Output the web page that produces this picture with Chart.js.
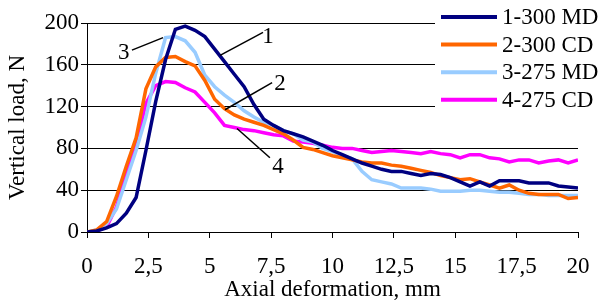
<!DOCTYPE html>
<html>
<head>
<meta charset="utf-8">
<script src="https://cdn.jsdelivr.net/npm/chart.js@4"></script>
<style>
  body { margin: 0; background: #fff; }
</style>
</head>
<body>
<canvas id="loadChart" width="601" height="304"></canvas>
<script>
// axial deformation, mm
const deformation = [0, 0.4, 0.8, 1.2, 1.6, 2.0, 2.4, 2.8, 3.2, 3.6, 4.0, 4.4, 4.8, 5.2, 5.6, 6.0, 6.4, 6.8, 7.2, 7.6,
  8.0, 8.4, 8.8, 9.2, 9.6, 10.0, 10.4, 10.8, 11.2, 11.6, 12.0, 12.4, 12.8, 13.2, 13.6, 14.0, 14.4, 14.8, 15.2, 15.6,
  16.0, 16.4, 16.8, 17.2, 17.6, 18.0, 18.4, 18.8, 19.2, 19.6, 20.0];

// vertical load, N
const load300MD = [0, 1, 4, 8, 18, 33, 78, 125, 165, 194, 197, 193, 187, 175, 163, 151, 139, 122, 108, 102,
  97, 94, 91, 87, 83, 78, 74, 70, 66, 63, 60, 58, 58, 56, 54, 56, 55, 52, 48, 44,
  48, 44, 49, 49, 49, 47, 47, 47, 44, 43, 42];
const load300CD = [0, 2, 10, 34, 63, 90, 137, 158, 167, 168, 163, 159, 145, 127, 118, 112, 108, 105, 102, 98,
  94, 88, 81, 79, 76, 73, 71, 69, 67, 66, 66, 64, 63, 61, 59, 57, 54, 52, 50, 51,
  48, 45, 42, 45, 40, 37, 36, 36, 36, 32, 33];
const load275MD = [0, 2, 8, 22, 50, 78, 110, 152, 186, 187, 183, 172, 150, 139, 131, 124, 116, 110, 105, 102,
  97, 94, 88, 86, 80, 77, 73, 70, 58, 50, 48, 46, 42, 42, 42, 41, 39, 39, 39, 40,
  40, 39, 38, 38, 37, 36, 36, 35, 35, 35, 35];
const load275CD = [0, 1, 5, 24, 56, 83, 123, 140, 144, 143, 138, 134, 124, 114, 102, 100, 98, 97, 95, 93,
  92, 87, 86, 85, 83, 81, 80, 80, 78, 76, 77, 78, 77, 76, 75, 77, 75, 74, 71, 74,
  74, 71, 70, 67, 69, 69, 66, 68, 69, 66, 69];

const seriesLabels = ["1-300 MD", "2-300 CD", "3-275 MD", "4-275 CD"];
const seriesColors = ["#000080", "#FF6600", "#99CCFF", "#FF00FF"];
const seriesValues = [load300MD, load300CD, load275MD, load275CD];

const xTicks = [0, 2.5, 5, 7.5, 10, 12.5, 15, 17.5, 20];
const yTicks = [0, 40, 80, 120, 160, 200];

// curve labels: [text, line from (x,y), line to (x,y), label at (x,y)] in data units
const curveNotes = [
  ["1", [5.42, 169], [7.17, 191], [7.37, 187]],
  ["2", [5.62, 117], [7.54, 143], [7.86, 142]],
  ["3", [3.1, 186], [1.83, 174], [1.5, 171]],
  ["4", [6.11, 99], [7.45, 71], [7.78, 62]],
];

Chart.defaults.font.family = "'Liberation Serif', 'Times New Roman', serif";
Chart.defaults.font.size = 23;
Chart.defaults.color = "#000";

const notesAndLegend = {
  id: "notesAndLegend",
  afterDatasetsDraw(chart) {
    const c = chart.ctx;
    const xs = chart.scales.x, ys = chart.scales.y;
    c.save();
    // leader lines and numbers
    c.strokeStyle = "#000";
    c.lineWidth = 1.5;
    c.fillStyle = "#000";
    c.font = "23px 'Liberation Serif'";
    c.textAlign = "center";
    c.textBaseline = "middle";
    curveNotes.forEach(([txt, a, b, t]) => {
      c.beginPath();
      c.moveTo(xs.getPixelForValue(a[0]), ys.getPixelForValue(a[1]));
      c.lineTo(xs.getPixelForValue(b[0]), ys.getPixelForValue(b[1]));
      c.stroke();
      c.fillText(txt, xs.getPixelForValue(t[0]), ys.getPixelForValue(t[1]));
    });
    // legend box
    c.fillStyle = "#fff";
    c.fillRect(435, 0, 166, 120);
    c.textAlign = "left";
    chart.data.datasets.forEach((ds, i) => {
      const y = 17 + i * 27.6;
      c.strokeStyle = ds.borderColor;
      c.lineWidth = 4;
      c.beginPath();
      c.moveTo(441, y);
      c.lineTo(497, y);
      c.stroke();
      c.fillStyle = "#000";
      c.fillText(ds.label, 502, y + 1);
    });
    c.restore();
  },
};

const ctx = document.getElementById("loadChart").getContext("2d");

const loadChart = new Chart(ctx, {
  type: "line",
  data: {
    datasets: seriesValues.map((vals, i) => ({
      label: seriesLabels[i],
      data: deformation.map((x, j) => ({ x: x, y: vals[j] })),
      borderColor: seriesColors[i],
      backgroundColor: seriesColors[i],
      borderWidth: 3.5,
      pointRadius: 0,
      tension: 0,
      fill: false,
    })),
  },
  options: {
    responsive: false,
    animation: false,
    layout: { padding: { top: 23, right: 23, left: 0, bottom: 0 } },
    plugins: {
      legend: { display: false },
      tooltip: { enabled: false },
    },
    scales: {
      x: {
        type: "linear",
        min: 0,
        max: 20,
        afterBuildTicks: (scale) => {
          scale.ticks = xTicks.map((v) => ({ value: v }));
        },
        afterFit: (scale) => {
          scale.height = 72;
          scale.paddingLeft = 0;
          scale.paddingRight = 0;
        },
        ticks: {
          padding: 15,
          maxRotation: 0,
          callback: (v) => String(v).replace(".", ","),
        },
        grid: { drawOnChartArea: false, drawTicks: true, tickLength: 6, color: "#000" },
        border: { color: "#000", width: 1 },
        title: {
          display: true,
          text: "Axial deformation, mm",
          font: { size: 23 },
          padding: { top: 0, bottom: 0 },
        },
      },
      y: {
        min: 0,
        max: 200,
        afterBuildTicks: (scale) => {
          scale.ticks = yTicks.map((v) => ({ value: v }));
        },
        afterFit: (scale) => {
          scale.width = 87;
          scale.paddingTop = 0;
          scale.paddingBottom = 0;
        },
        ticks: { padding: 2 },
        grid: { color: "#000", lineWidth: 1, tickLength: 6 },
        border: { color: "#000", width: 1 },
        title: {
          display: true,
          text: "Vertical load, N",
          font: { size: 23 },
          padding: { top: 4, bottom: 4 },
        },
      },
    },
  },
  plugins: [notesAndLegend],
});
</script>
</body>
</html>
